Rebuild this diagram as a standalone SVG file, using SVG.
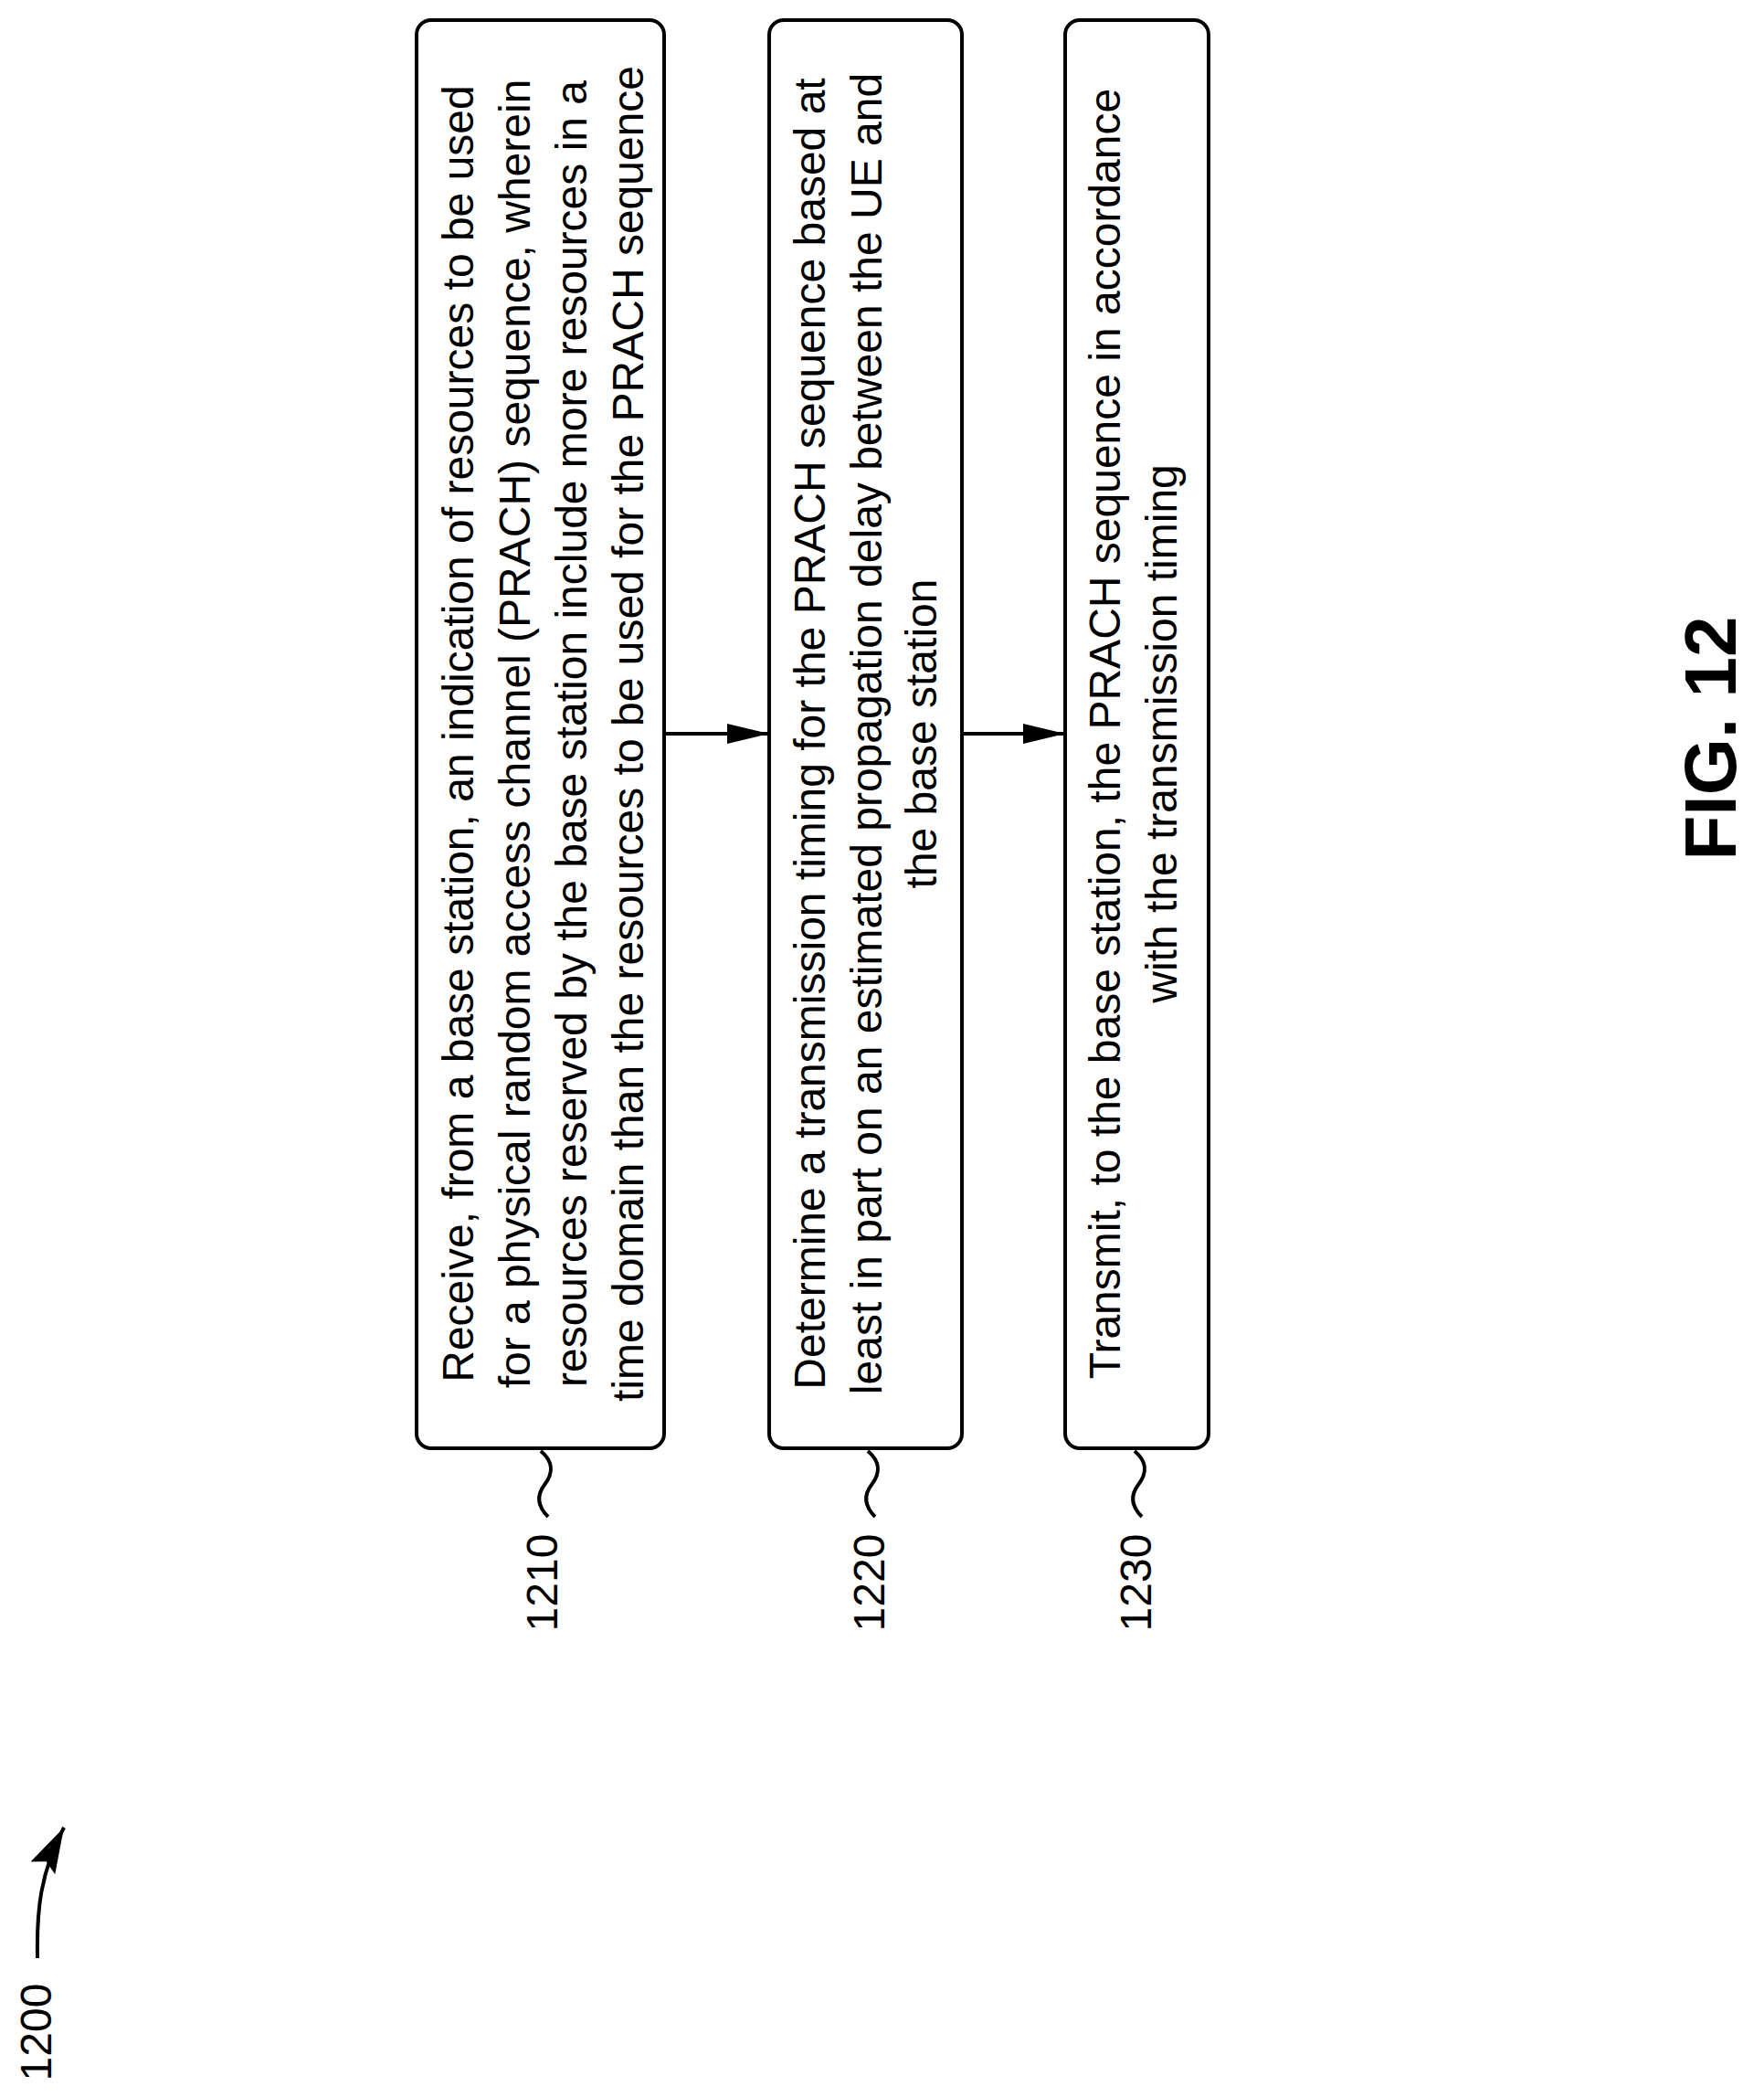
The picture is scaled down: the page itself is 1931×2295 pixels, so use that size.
<svg xmlns="http://www.w3.org/2000/svg" width="1931" height="2295" viewBox="0 0 1931 2295">
<style>
.box{fill:#fff;stroke:#000;stroke-width:4}
.t{font-family:"Liberation Sans",Arial,sans-serif;font-size:48px;fill:#000;text-anchor:middle}
.lbl{font-family:"Liberation Sans",Arial,sans-serif;font-size:48px;fill:#000;text-anchor:middle}
.ln{fill:none;stroke:#000;stroke-width:4}
</style>
<defs>
<marker id="ah2" markerWidth="46" markerHeight="22" refX="46" refY="11" orient="auto" markerUnits="userSpaceOnUse"><path d="M0,0 L46,11 L0,22 Z"/></marker>
<marker id="ah3" markerWidth="50" markerHeight="30" refX="50" refY="15" orient="auto" markerUnits="userSpaceOnUse"><path d="M0,0 L50,15 L0,30 L8,15 Z"/></marker>
</defs>
<g id="n1210">
<rect class="box" x="456" y="22" width="271" height="1563" rx="16"/>
<g class="t">
<text transform="translate(518,803) rotate(-90)">Receive,  from a base station,  an indication of resources to be used</text>
<text transform="translate(580,803) rotate(-90)">for a physical random access channel (PRACH) sequence, wherein</text>
<text transform="translate(642,803) rotate(-90)">resources reserved by the base station include more resources in a</text>
<text transform="translate(704,803) rotate(-90)">time domain than the resources to be used for the PRACH sequence</text>
</g>
<path class="ln" d="M592,1588 C606,1600 606,1612 596,1625 C586,1638 590,1650 600,1660"/>
<text class="lbl" transform="translate(610,1732) rotate(-90)">1210</text>
</g>
<g id="n1220">
<rect class="box" x="842" y="22" width="211" height="1563" rx="16"/>
<g class="t">
<text transform="translate(903,803) rotate(-90)">Determine a transmission timing for the PRACH sequence based at</text>
<text transform="translate(965,803) rotate(-90)">least in part on an estimated propagation delay between the UE and</text>
<text transform="translate(1025,803) rotate(-90)">the base station</text>
</g>
<path class="ln" d="M950,1588 C964,1600 964,1612 954,1625 C944,1638 948,1650 958,1660"/>
<text class="lbl" transform="translate(968,1732) rotate(-90)">1220</text>
</g>
<g id="n1230">
<rect class="box" x="1166" y="22" width="157" height="1563" rx="16"/>
<g class="t">
<text transform="translate(1226,803) rotate(-90)">Transmit, to the base station, the PRACH sequence in accordance</text>
<text transform="translate(1288,803) rotate(-90)">with the transmission timing</text>
</g>
<path class="ln" d="M1242,1588 C1256,1600 1256,1612 1246,1625 C1236,1638 1240,1650 1250,1660"/>
<text class="lbl" transform="translate(1260,1732) rotate(-90)">1230</text>
</g>
<g id="connectors">
<line class="ln" x1="727" y1="803" x2="842" y2="803" marker-end="url(#ah2)"/>
<line class="ln" x1="1053" y1="803" x2="1166" y2="803" marker-end="url(#ah2)"/>
<path class="ln" d="M41,2143 C40,2090 44,2050 70,2000" marker-end="url(#ah3)"/>
</g>
<g id="fig">
<text class="lbl" transform="translate(56,2224) rotate(-90)">1200</text>
<text transform="translate(1900,808) rotate(-90)" style="font-family:'Liberation Sans',Arial,sans-serif;font-size:80px;font-weight:bold;text-anchor:middle">FIG. 12</text>
</g>
</svg>
